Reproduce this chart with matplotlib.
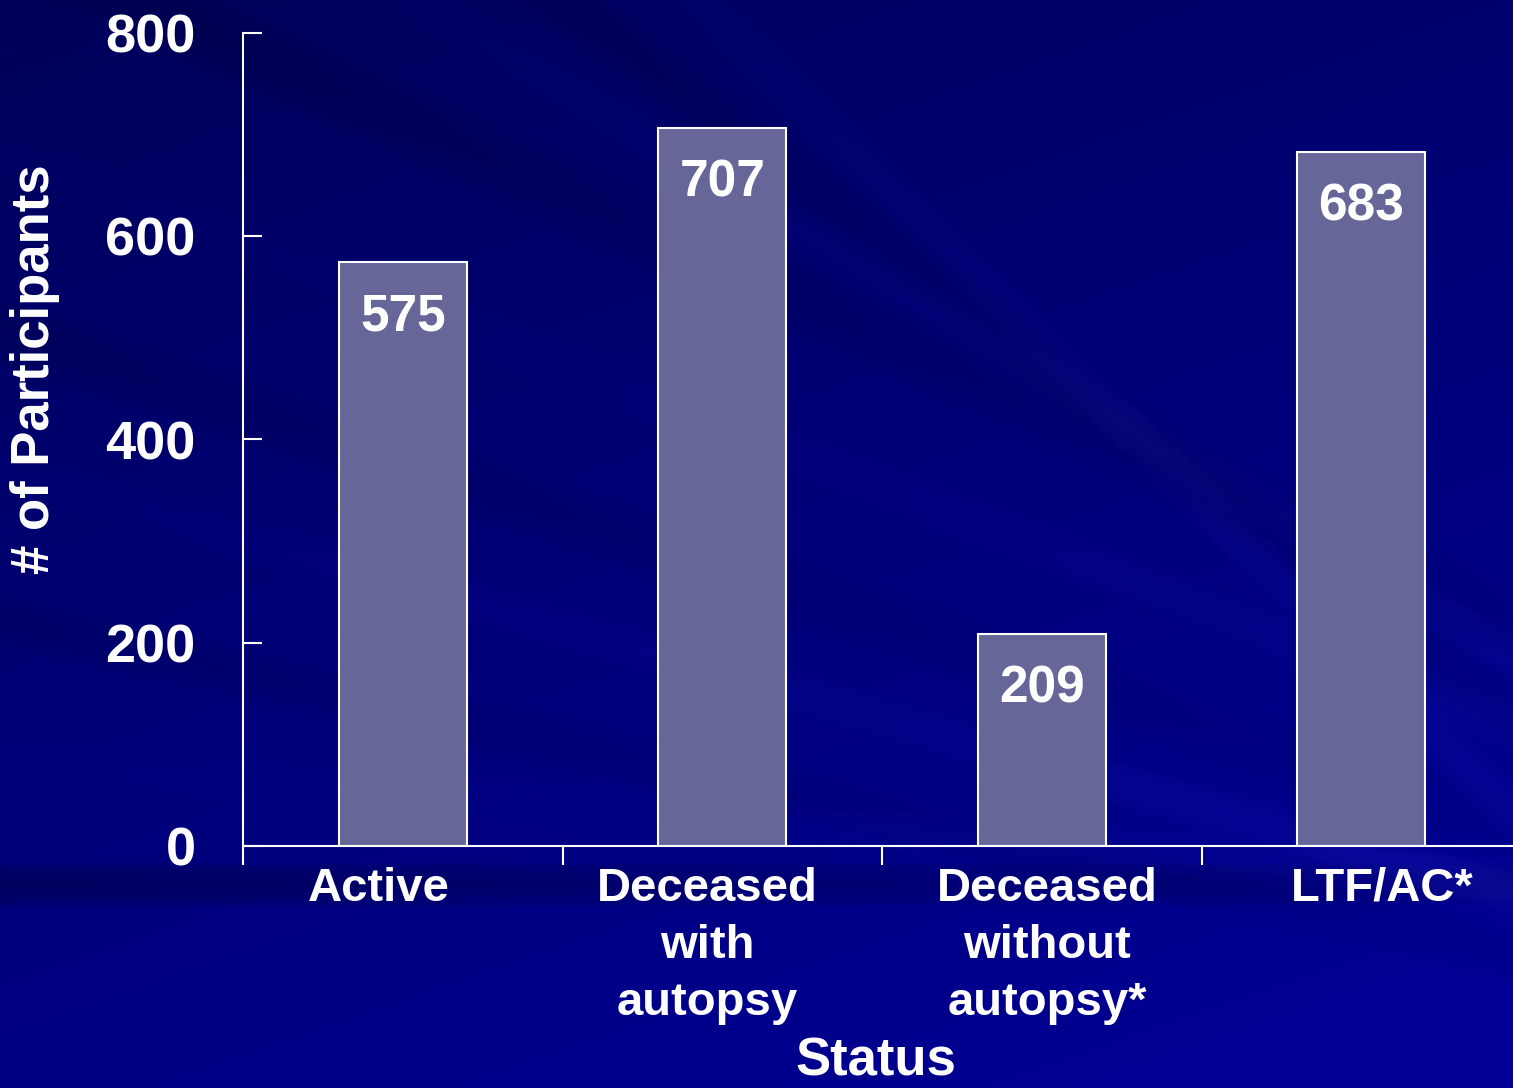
import numpy as np
import matplotlib.pyplot as plt
from matplotlib.ticker import FixedLocator

plt.rcParams['font.family'] = ['Liberation Sans', 'DejaVu Sans']
plt.rcParams['font.weight'] = 'bold'

categories = ["Active", "Deceased\nwith\nautopsy", "Deceased\nwithout\nautopsy*", "LTF/AC*"]
counts = [575, 707, 209, 683]
y_ticks = [0, 200, 400, 600, 800]
label_shift = [-17, -11, 4, 15]  # points, horizontal nudge of category labels

bar_color = '#666699'
W, H = 1513, 1088

fig = plt.figure(figsize=(W / 100, H / 100), dpi=100)

# slide-style navy backdrop with soft streaks
yy, xx = np.mgrid[0:H, 0:W].astype(float)
blue = 90 + 42 * (yy / H) + 20 * (xx / W)
red = np.zeros_like(blue)
streaks = [
    # (y at x=0, slope, half width, delta)
    (-700, 1.00, 30, 8),
    (-420, 0.75, 35, -12),
    (-250, 0.60, 25, 7),
    (-60, 0.45, 40, -12),
    (150, 0.38, 25, 6),
    (330, 0.33, 35, -10),
    (470, 0.28, 22, 10),
    (620, 0.22, 28, -10),
    (760, 0.08, 22, 6),
    (884, 0.00, 22, -30),
]
for y0, s, hw, d in streaks:
    dist = np.abs(yy - (y0 + s * xx))
    mask = np.clip(1 - dist / hw, 0, 1) ** 0.4
    if d > 0:
        blue += d * mask * (0.4 + 0.6 * xx / W)
        red += 0.6 * d * mask * (xx / W)
    else:
        blue += d * mask * (1.0 - 0.5 * xx / W)
bg = np.dstack([red, red, blue]).clip(0, 255) / 255
bg_ax = fig.add_axes([0, 0, 1, 1], zorder=0)
bg_ax.imshow(bg, aspect='auto', interpolation='bilinear')
bg_ax.axis('off')

ax = fig.add_axes([243 / W, 242 / H, 1278 / W, 813 / H], zorder=1)
ax.patch.set_alpha(0)
x = np.arange(len(categories))
bars = ax.bar(x, counts, width=0.4, color=bar_color, edgecolor='white', linewidth=1.5)
for rect, v in zip(bars, counts):
    ax.annotate(str(v), (rect.get_x() + rect.get_width() / 2, v), xytext=(0, -40),
                textcoords='offset points', ha='center', va='center',
                color='white', fontsize=37, fontweight='bold')

ax.set_xlim(-0.5, len(categories) - 0.5)
ax.set_ylim(0, 800)
ax.set_yticks(y_ticks)
ax.tick_params(axis='y', direction='in', length=13.7, width=1.5, colors='white',
               labelsize=39, pad=34)
for lab in ax.get_yticklabels():
    lab.set_fontweight('bold')

# category boundaries carry the ticks, names sit between them
ax.set_xticks([])
ax.xaxis.set_minor_locator(FixedLocator(np.arange(-0.5, len(categories), 1)))
ax.tick_params(axis='x', which='minor', direction='out', length=13.7, width=1.5, colors='white')
for i, (name, dx) in enumerate(zip(categories, label_shift)):
    ax.annotate(name, (i, 0), xycoords=('data', 'axes fraction'), xytext=(dx, -15),
                textcoords='offset points', ha='center', va='top', multialignment='center',
                linespacing=1.39, color='white', fontsize=34, fontweight='bold')

for side in ['top', 'right']:
    ax.spines[side].set_visible(False)
for side in ['left', 'bottom']:
    ax.spines[side].set_color('white')
    ax.spines[side].set_linewidth(1.5)

fig.text(35 / W, 1 - 369 / H, '# of Participants', rotation=90, ha='center', va='center',
         color='white', fontsize=38, fontweight='bold')
fig.text(876 / W, 1 / H, 'Status', ha='center', va='bottom',
         color='white', fontsize=38, fontweight='bold')

fig.savefig('out.png', dpi=100)
